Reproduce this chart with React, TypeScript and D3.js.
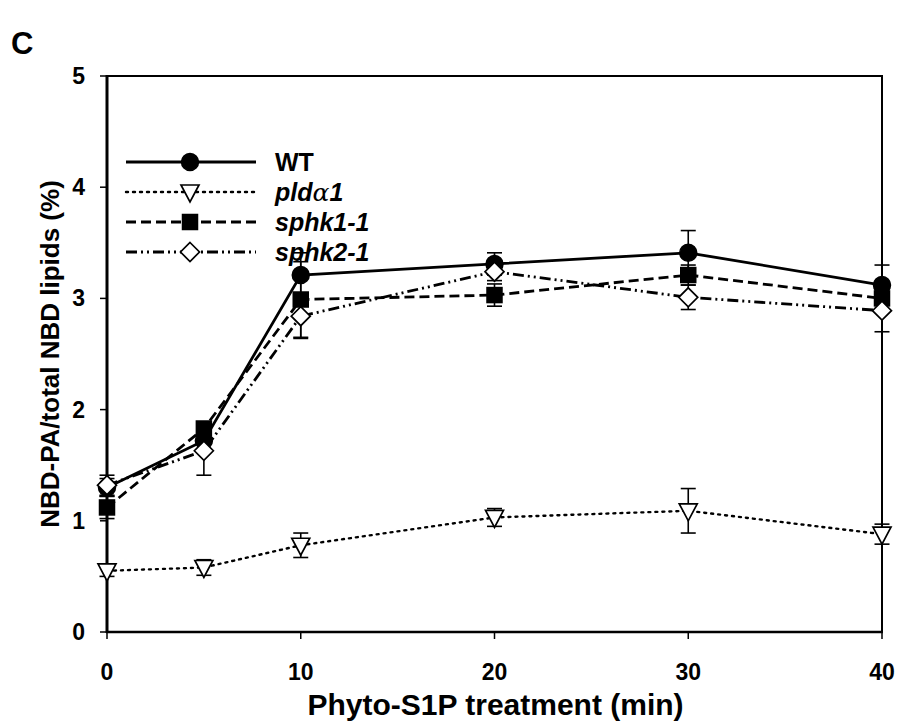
import React from "react";
import * as d3 from "d3";

const times = [0, 5, 10, 20, 30, 40];

const wtMean = [1.3, 1.72, 3.21, 3.31, 3.41, 3.12];
const wtErr = [0.08, 0.1, 0.2, 0.1, 0.2, 0.18];

const pldMean = [0.55, 0.58, 0.78, 1.03, 1.09, 0.88];
const pldErr = [0.05, 0.07, 0.11, 0.08, 0.2, 0.09];

const sphk1Mean = [1.12, 1.83, 2.99, 3.03, 3.21, 3.0];
const sphk1Err = [0.1, 0.06, 0.34, 0.1, 0.09, 0.1];

const sphk2Mean = [1.32, 1.63, 2.84, 3.24, 3.01, 2.89];
const sphk2Err = [0.09, 0.22, 0.2, 0.08, 0.11, 0.19];

const xTicks = [0, 10, 20, 30, 40];
const yTicks = [0, 1, 2, 3, 4, 5];

type Marker = "circle" | "triangleDown" | "square" | "diamond";

interface Series {
  key: string;
  mean: number[];
  err: number[];
  marker: Marker;
  dash: string | null;
  fill: string;
}

const seriesList: Series[] = [
  { key: "WT", mean: wtMean, err: wtErr, marker: "circle", dash: null, fill: "#000" },
  { key: "pld", mean: pldMean, err: pldErr, marker: "triangleDown", dash: "2 5", fill: "#fff" },
  { key: "sphk1", mean: sphk1Mean, err: sphk1Err, marker: "square", dash: "10 5", fill: "#000" },
  { key: "sphk2", mean: sphk2Mean, err: sphk2Err, marker: "diamond", dash: "11 4 2 4 2 4", fill: "#fff" },
];

const W = 903;
const H = 721;
const margin = { left: 107, right: 21, top: 76, bottom: 89 };
const FONT = "'Liberation Sans', Arial, sans-serif";

function markerShape(kind: Marker, cx: number, cy: number, fill: string, k: string) {
  if (kind === "circle") {
    return <circle key={k} cx={cx} cy={cy} r={8.5} fill={fill} stroke="#000" strokeWidth={1.5} />;
  }
  if (kind === "square") {
    return <rect key={k} x={cx - 7.5} y={cy - 7.5} width={15} height={15} fill={fill} stroke="#000" strokeWidth={1.5} />;
  }
  if (kind === "diamond") {
    const s = 9.5;
    return (
      <path key={k} d={`M${cx},${cy - s}L${cx + s},${cy}L${cx},${cy + s}L${cx - s},${cy}Z`}
        fill={fill} stroke="#000" strokeWidth={1.7} />
    );
  }
  const h = 8;
  return (
    <path key={k} d={`M${cx - 9},${cy - h + 1}L${cx + 9},${cy - h + 1}L${cx},${cy + h + 2}Z`}
      fill={fill} stroke="#000" strokeWidth={1.7} />
  );
}

export default function App() {
  const x = d3.scaleLinear().domain([0, 40]).range([margin.left, W - margin.right]);
  const y = d3.scaleLinear().domain([0, 5]).range([H - margin.bottom, margin.top]);

  const line = d3
    .line<number>()
    .x((_, i) => x(times[i]))
    .y((d) => y(d));

  const legendRows = [
    { s: seriesList[0], label: <tspan>WT</tspan> },
    {
      s: seriesList[1],
      label: (
        <tspan fontStyle="italic">pld<tspan fontFamily="'DejaVu Serif', serif" fontWeight="normal">α</tspan>1</tspan>
      ),
    },
    { s: seriesList[2], label: <tspan fontStyle="italic">sphk1-1</tspan> },
    { s: seriesList[3], label: <tspan fontStyle="italic">sphk2-1</tspan> },
  ];

  const x0 = x(0);
  const x1 = x(40);
  const yb = y(0);
  const yt = y(5);

  return (
    <svg width={W} height={H} style={{ position: "absolute", left: 0, top: 0, background: "#fff" }}
      fontFamily={FONT}>
      <rect x={0} y={0} width={W} height={H} fill="#fff" />
      <text x={11} y={54} fontSize={31} fontWeight="bold">C</text>

      {/* frame */}
      <rect x={x0} y={yt} width={x1 - x0} height={yb - yt} fill="none" stroke="#000" strokeWidth={2} />
      <line x1={x0} x2={x0} y1={yt - 1} y2={yb + 1} stroke="#000" strokeWidth={3} />
      <line x1={x0 - 1} x2={x1 + 1} y1={yb} y2={yb} stroke="#000" strokeWidth={2.5} />

      {/* y ticks */}
      {yTicks.map((t) => (
        <g key={`yt${t}`}>
          <line x1={x0 - 7} x2={x0} y1={y(t)} y2={y(t)} stroke="#000" strokeWidth={1.5} />
          <text x={x0 - 22} y={y(t)} dy="0.35em" textAnchor="end" fontSize={23} fontWeight="bold">{t}</text>
        </g>
      ))}
      {/* x ticks */}
      {xTicks.map((t) => (
        <g key={`xt${t}`}>
          <line x1={x(t)} x2={x(t)} y1={yb} y2={yb + 7} stroke="#000" strokeWidth={1.5} />
          <text x={x(t)} y={yb + 48} textAnchor="middle" fontSize={23} fontWeight="bold">{t}</text>
        </g>
      ))}

      <text x={(x0 + x1) / 2 + 1} y={715} textAnchor="middle" fontSize={30} fontWeight="bold">
        Phyto-S1P treatment (min)
      </text>
      <text transform={`translate(59,${(yt + yb) / 2}) rotate(-90)`} textAnchor="middle" fontSize={26}
        fontWeight="bold">
        NBD-PA/total NBD lipids (%)
      </text>

      {/* error bars */}
      {seriesList.map((s) =>
        s.mean.map((m, i) => {
          const cx = x(times[i]);
          const lo = y(m - s.err[i]);
          const hi = y(m + s.err[i]);
          return (
            <g key={`e${s.key}${i}`} stroke="#000" strokeWidth={1.6}>
              <line x1={cx} x2={cx} y1={lo} y2={hi} />
              <line x1={cx - 7.5} x2={cx + 7.5} y1={lo} y2={lo} />
              <line x1={cx - 7.5} x2={cx + 7.5} y1={hi} y2={hi} />
            </g>
          );
        })
      )}

      {/* series lines */}
      {seriesList.map((s) => (
        <path key={`l${s.key}`} d={line(s.mean) || ""} fill="none" stroke="#000"
          strokeWidth={s.key === "pld" ? 2.4 : 2.8} strokeDasharray={s.dash || undefined}
          strokeLinecap={s.key === "pld" ? "round" : "butt"} />
      ))}

      {/* markers */}
      {seriesList.map((s) =>
        s.mean.map((m, i) => markerShape(s.marker, x(times[i]), y(m), s.fill, `m${s.key}${i}`))
      )}

      {/* legend */}
      {legendRows.map((r, i) => {
        const ly = 162 + i * 30;
        return (
          <g key={`lg${i}`}>
            <line x1={126} x2={256} y1={ly} y2={ly} stroke="#000" strokeWidth={r.s.key === "pld" ? 2.4 : 2.8}
              strokeDasharray={r.s.dash || undefined} strokeLinecap={r.s.key === "pld" ? "round" : "butt"} />
            {markerShape(r.s.marker, 190, ly, r.s.fill, `lm${i}`)}
            <text x={275} y={ly} dy="0.36em" fontSize={25} fontWeight="bold">{r.label}</text>
          </g>
        );
      })}
    </svg>
  );
}
